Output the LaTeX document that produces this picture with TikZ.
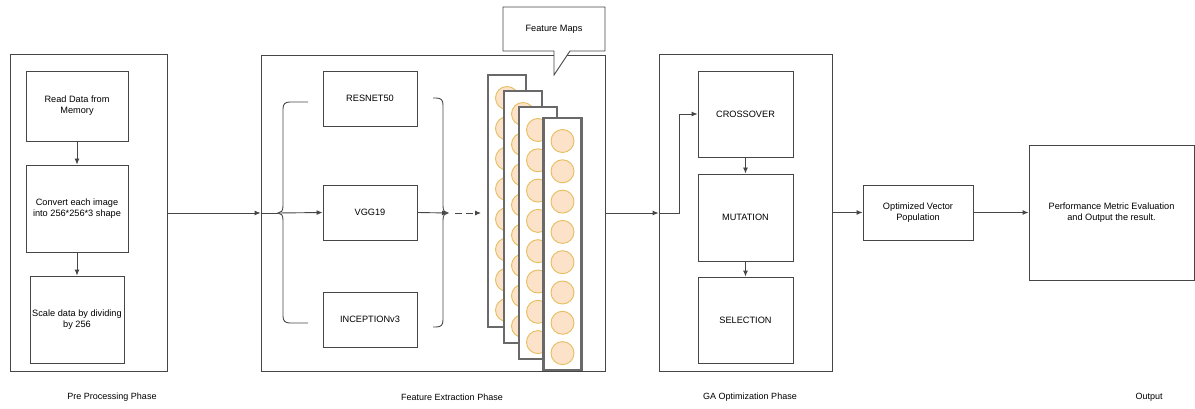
\documentclass[tikz,border=0pt]{standalone}
\usepackage{fontspec}
\setmainfont{Liberation Sans}
\usetikzlibrary{arrows.meta,calc}
\definecolor{ln}{RGB}{70,70,70}
\definecolor{circfill}{RGB}{252,226,200}
\definecolor{circline}{RGB}{230,190,95}
\definecolor{mapline}{RGB}{105,105,105}
\begin{document}
\begin{tikzpicture}[x=1pt,y=-1pt,
  box/.style={draw=ln, line width=0.9pt, fill=white, inner sep=1pt, align=center, font=\fontsize{9.2}{11}\selectfont},
  frame/.style={draw=ln, line width=0.9pt, inner sep=0pt},
  arr/.style={draw=ln, line width=0.9pt, -{Latex[length=6pt,width=5pt]}},
  plain/.style={draw=ln, line width=0.9pt},
  fmap/.style={draw=mapline, line width=2.3pt, fill=white, inner sep=0pt, minimum width=38, minimum height=252},
  circ/.style={draw=circline, line width=0.9pt, fill=circfill},
  lbl/.style={font=\fontsize{9}{11}\selectfont}]
\useasboundingbox (0,0) rectangle (1195,409);

% phase frames
\node[frame, minimum width=157, minimum height=317] (pre) at (88.5,212.5) {};
\node[frame, minimum width=344, minimum height=316] (feat) at (433,213) {};
\node[frame, minimum width=173, minimum height=317] (ga) at (745.5,212.5) {};

% preprocessing
\node[box, minimum width=102, minimum height=70] (read) at (77,106) {Read Data from\\Memory};
\node[box, minimum width=102, minimum height=87] (conv) at (77,208.5) {Convert each image\\into 256*256*3 shape};
\node[box, minimum width=94, minimum height=87] (scale) at (77,319.5) {Scale data by dividing\\by 256};
\draw[arr] (read) -- (conv);
\draw[arr] (conv) -- (scale);

% feature extraction
\node[box, minimum width=94, minimum height=55] (res) at (370,98.5) {RESNET50};
\node[box, minimum width=94, minimum height=55] (vgg) at (370,212.5) {VGG19};
\node[box, minimum width=94, minimum height=55] (inc) at (370,319.5) {INCEPTIONv3};

\coordinate (lbt) at (278,213);
\coordinate (rbt) at (448,213);
\coordinate (dstart) at (455,213);
\coordinate (mapin) at (481,213);

\draw[plain] (308,102) -- (290,102) .. controls (285,102) and (283,104) .. (283,109) -- (283,206)
  .. controls (283,211) and (281,213) .. (lbt) .. controls (281,213) and (283,215) .. (283,220)
  -- (283,316) .. controls (283,321) and (285,323) .. (290,323) -- (308,323);
\draw[plain] (433,98) -- (436,98) .. controls (441,98) and (443,100) .. (443,105) -- (443,206)
  .. controls (443,211) and (445,213) .. (rbt) .. controls (445,213) and (443,215) .. (443,220)
  -- (443,320) .. controls (443,325) and (441,327) .. (436,327) -- (433,327);

\draw[arr] (pre.east |- feat.west) -- (feat.west);
\draw[plain] (feat.west) -- (lbt);
\draw[arr] (lbt) -- (vgg.west);
\draw[arr] (vgg.east) -- (rbt);
\draw[arr, dash pattern=on 7pt off 4pt] (dstart) -- (mapin);

% feature maps
\foreach \n/\cx/\cy in {1/507/201, 2/523/217, 3/538/233, 4/562.5/244}{
  \node[fmap] (fm\n) at (\cx,\cy) {};
  \foreach \i in {0,...,7}{
    \fill[circ] (\cx,\cy-126+23+\i*30.3) circle (11.5);
  }
}

% callout
\draw[plain, fill=white] (503,7) -- (605,7) -- (605,51) -- (570,51) -- (554,75) -- (554,51) -- (503,51) -- cycle;
\node[font=\fontsize{9.2}{11}\selectfont] (fmlabel) at (554,29) {Feature Maps};

% GA
\node[box, minimum width=95, minimum height=86] (cross) at (745.5,114) {CROSSOVER};
\node[box, minimum width=95, minimum height=87] (mut) at (745.5,217.5) {MUTATION};
\node[box, minimum width=95, minimum height=86] (sel) at (745.5,320) {SELECTION};
\draw[arr] (cross) -- (mut);
\draw[arr] (mut) -- (sel);

\coordinate (gaj) at (679,213);
\draw[arr] (feat.east) -- (ga.west |- feat.east);
\draw[arr] (ga.west |- gaj) -- (gaj) |- (cross.west);

% outputs
\node[box, minimum width=110, minimum height=55] (opt) at (918,212.5) {Optimized Vector\\Population};
\node[box, minimum width=165, minimum height=135] (perf) at (1111.5,212.5) {Performance Metric Evaluation\\and Output the result.};
\draw[arr] (ga.east) -- (opt.west);
\draw[arr] (opt.east) -- (perf.west);

% phase labels
\node[lbl] (l1) at (112,397) {Pre Processing Phase};
\node[lbl] (l2) at (452,397) {Feature Extraction Phase};
\node[lbl] (l3) at (750,397) {GA Optimization Phase};
\node[lbl] (l4) at (1149,397) {Output};
\end{tikzpicture}
\end{document}
